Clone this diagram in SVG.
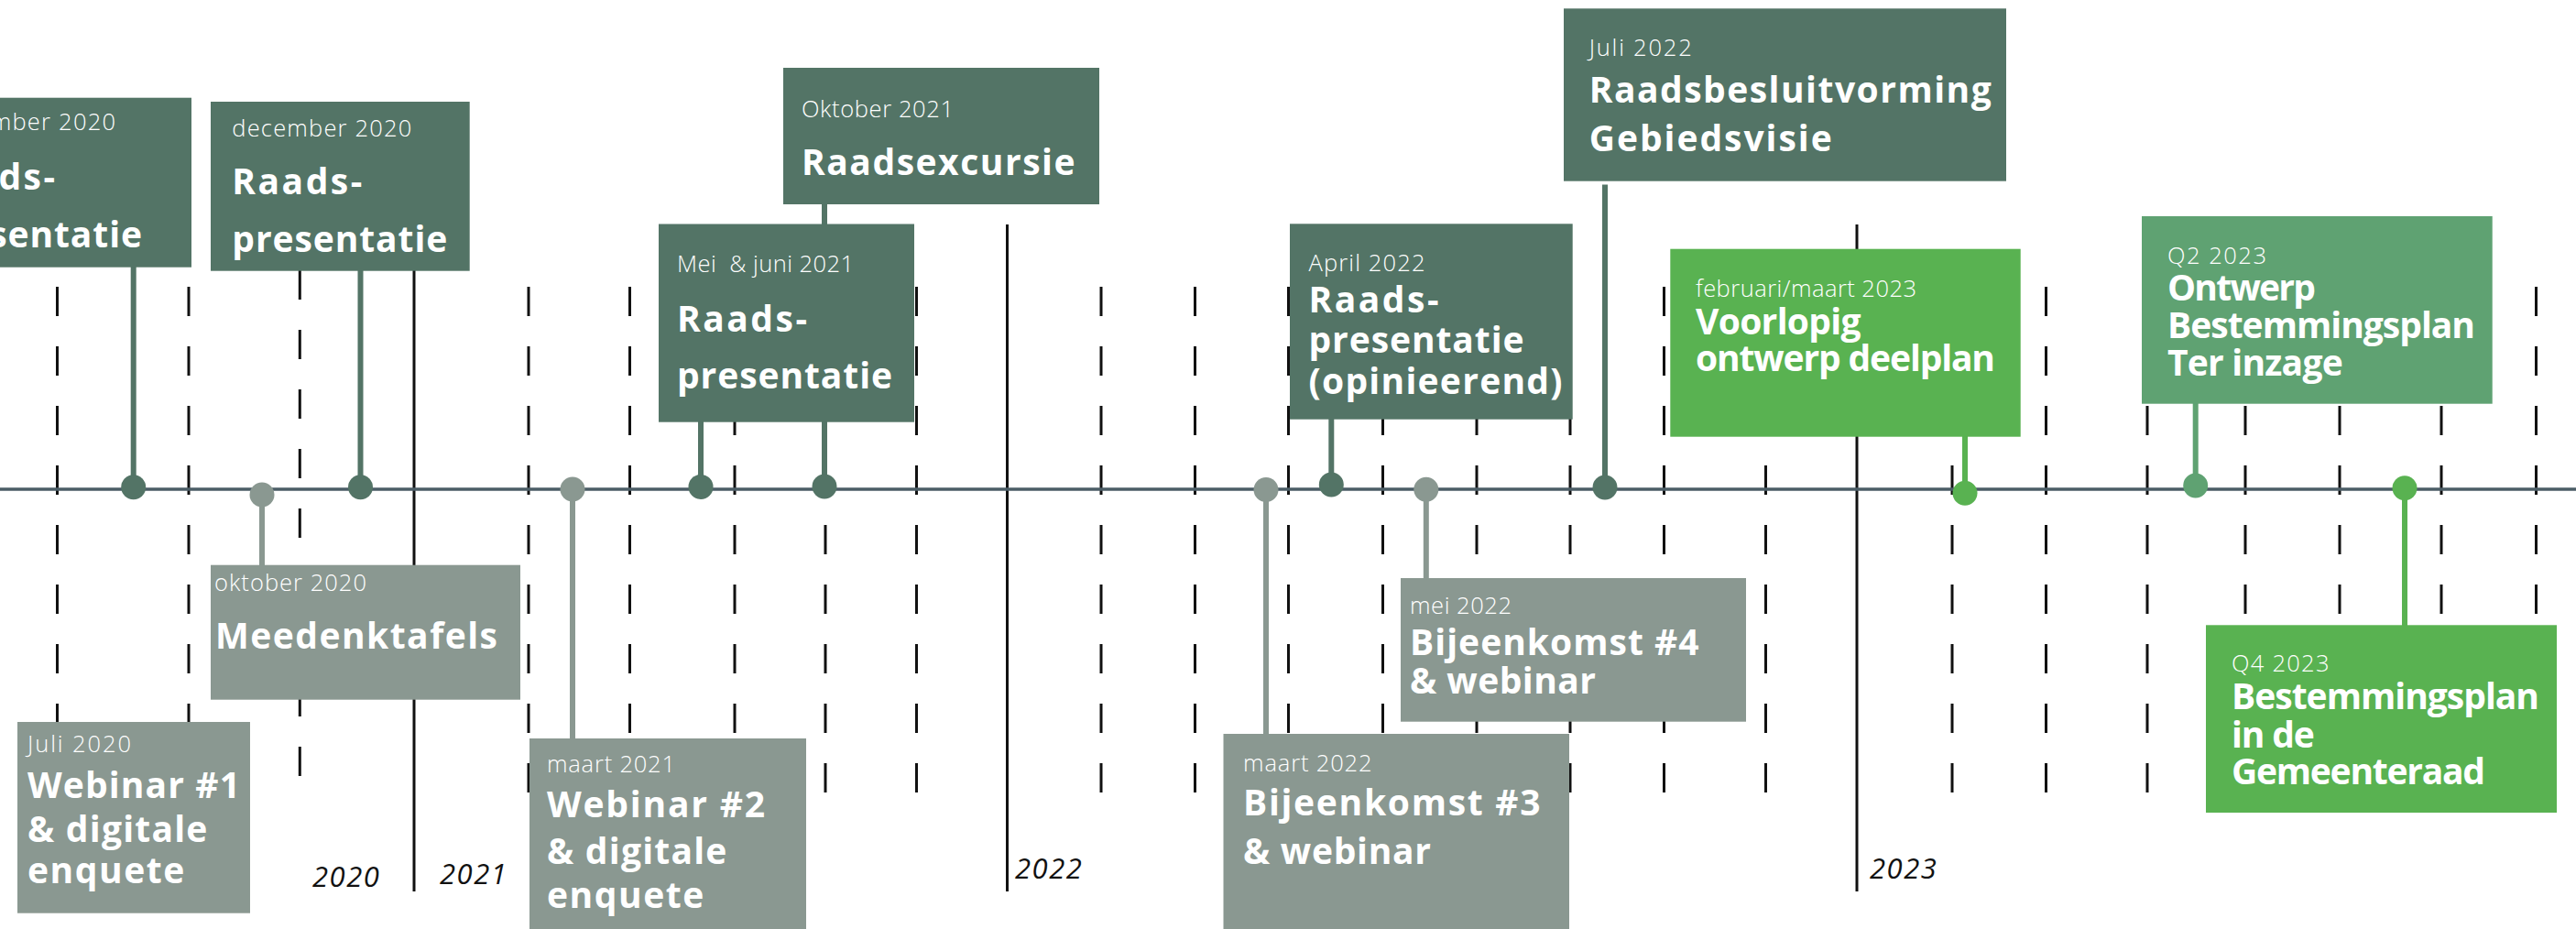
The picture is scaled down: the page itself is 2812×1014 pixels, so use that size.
<svg xmlns="http://www.w3.org/2000/svg" width="2812" height="1014" viewBox="0 0 2812 1014">
<style>
.bg{fill:#ffffff}
.grid{stroke:#111;stroke-width:3;fill:none}
.dash{stroke:#111;stroke-width:3;stroke-dasharray:32 33;fill:none}
.axis{stroke:#4b5d66;stroke-width:3.5}
.c{stroke-width:6;fill:none}
.dk{fill:#537466}.dks{stroke:#537466}
.gy{fill:#8a9891}.gys{stroke:#8a9891}
.gr{fill:#59b251}.grs{stroke:#59b251}
.mg{fill:#5fa272}.mgs{stroke:#5fa272}
.d{font-family:"Open Sans","Liberation Sans",sans-serif;font-weight:300;font-size:25.5px;fill:#fff}
.t{font-family:"Open Sans","Liberation Sans",sans-serif;font-weight:700;font-size:39px;fill:#fff}
.y{font-family:"Open Sans","Liberation Sans",sans-serif;font-style:italic;font-size:31px;letter-spacing:1.5px;fill:#111}
</style>
<rect class="bg" x="0" y="0" width="2812" height="1014"/>
<g id="grid">
<g class="dash">
<line x1="62.5" y1="313" x2="62.5" y2="866"/>
<line x1="206" y1="313" x2="206" y2="866"/>
<line x1="327.3" y1="295" x2="327.3" y2="848"/>
<line x1="577" y1="313" x2="577" y2="866"/>
<line x1="687.5" y1="313" x2="687.5" y2="866"/>
<line x1="802" y1="313" x2="802" y2="866"/>
<line x1="901" y1="313" x2="901" y2="866"/>
<line x1="1000.5" y1="313" x2="1000.5" y2="866"/>
<line x1="1202" y1="313" x2="1202" y2="866"/>
<line x1="1304.5" y1="313" x2="1304.5" y2="866"/>
<line x1="1406.5" y1="313" x2="1406.5" y2="866"/>
<line x1="1509.5" y1="313" x2="1509.5" y2="866"/>
<line x1="1612" y1="313" x2="1612" y2="866"/>
<line x1="1714" y1="313" x2="1714" y2="866"/>
<line x1="1816.5" y1="313" x2="1816.5" y2="866"/>
<line x1="1927.5" y1="313" x2="1927.5" y2="866"/>
<line x1="2131" y1="313" x2="2131" y2="866"/>
<line x1="2233.5" y1="313" x2="2233.5" y2="866"/>
<line x1="2344" y1="313" x2="2344" y2="866"/>
<line x1="2451" y1="313" x2="2451" y2="866"/>
<line x1="2554" y1="313" x2="2554" y2="866"/>
<line x1="2665" y1="313" x2="2665" y2="866"/>
<line x1="2768.5" y1="313" x2="2768.5" y2="866"/>
</g>
<g class="grid">
<line x1="452" y1="245" x2="452" y2="973"/>
<line x1="1099.5" y1="245" x2="1099.5" y2="973"/>
<line x1="2027" y1="245" x2="2027" y2="973"/>
</g>
<text class="y" x="341" y="968">2020</text>
<text class="y" x="480" y="965">2021</text>
<text class="y" x="1108" y="958.5">2022</text>
<text class="y" x="2041" y="958.5">2023</text>
<line class="axis" x1="0" y1="534" x2="2812" y2="534"/>
</g>
<g id="connectors">
<line class="c dks" x1="145.7" y1="290" x2="145.7" y2="531.7"/>
<line class="c gys" x1="286" y1="540" x2="286" y2="620"/>
<line class="c dks" x1="393.5" y1="294" x2="393.5" y2="531.7"/>
<line class="c gys" x1="625" y1="534" x2="625" y2="808"/>
<line class="c dks" x1="765" y1="458" x2="765" y2="531.4"/>
<line class="c dks" x1="900" y1="220" x2="900" y2="531"/>
<line class="c gys" x1="1382" y1="534.5" x2="1382" y2="803"/>
<line class="c dks" x1="1453.3" y1="455" x2="1453.3" y2="529"/>
<line class="c gys" x1="1556.8" y1="534.3" x2="1556.8" y2="633"/>
<line class="c dks" x1="1752" y1="201.5" x2="1752" y2="532"/>
<line class="c grs" x1="2145" y1="474" x2="2145" y2="538.3"/>
<line class="c mgs" x1="2396.7" y1="438" x2="2396.7" y2="530"/>
<line class="c grs" x1="2625" y1="532.7" x2="2625" y2="685"/>
<circle class="dk" cx="145.7" cy="531.7" r="13.5"/>
<circle class="gy" cx="286" cy="540" r="13.5"/>
<circle class="dk" cx="393.5" cy="531.7" r="13.5"/>
<circle class="gy" cx="625" cy="534" r="13.5"/>
<circle class="dk" cx="765" cy="531.4" r="13.5"/>
<circle class="dk" cx="900" cy="531" r="13.5"/>
<circle class="gy" cx="1382" cy="534.5" r="13.5"/>
<circle class="dk" cx="1453.3" cy="529" r="13.5"/>
<circle class="gy" cx="1556.8" cy="534.3" r="13.5"/>
<circle class="dk" cx="1752" cy="532" r="13.5"/>
<circle class="gr" cx="2145" cy="538.3" r="13.5"/>
<circle class="mg" cx="2396.7" cy="530" r="13.5"/>
<circle class="gr" cx="2625" cy="532.7" r="13.5"/>
</g>
<g id="node-sep2020">
<rect class="dk" x="-120" y="106.7" width="329" height="185"/>
<text class="d" x="-80" y="142.3" textLength="206">september 2020</text>
<text class="t" x="-82" y="206.7" textLength="142">Raads-</text>
<text class="t" x="-80" y="270" textLength="235">presentatie</text>
</g>
<g id="node-dec2020">
<rect class="dk" x="230" y="111" width="282.7" height="184.7"/>
<text class="d" x="253.3" y="149" textLength="196">december 2020</text>
<text class="t" x="253.3" y="211.7" textLength="142">Raads-</text>
<text class="t" x="253.3" y="275" textLength="235">presentatie</text>
</g>
<g id="node-okt2021">
<rect class="dk" x="855" y="74" width="345" height="149"/>
<text class="d" x="875" y="128" textLength="166">Oktober 2021</text>
<text class="t" x="875" y="191" textLength="298.5">Raadsexcursie</text>
</g>
<g id="node-mei2021">
<rect class="dk" x="719" y="244.5" width="279" height="216.2"/>
<text class="d" x="739" y="297" xml:space="preserve" textLength="193">Mei  &amp; juni 2021</text>
<text class="t" x="739" y="361.6" textLength="142">Raads-</text>
<text class="t" x="739" y="424" textLength="235">presentatie</text>
</g>
<g id="node-apr2022">
<rect class="dk" x="1408" y="244.3" width="308.7" height="213.4"/>
<text class="d" x="1428.5" y="296" textLength="127">April 2022</text>
<text class="t" x="1428.5" y="341" textLength="142">Raads-</text>
<text class="t" x="1428.5" y="385" textLength="235">presentatie</text>
<text class="t" x="1428.5" y="430" textLength="277">(opinieerend)</text>
</g>
<g id="node-jul2022">
<rect class="dk" x="1707" y="9.3" width="483" height="188.4"/>
<text class="d" x="1734.7" y="60.6" textLength="112">Juli 2022</text>
<text class="t" x="1734.7" y="112" textLength="439">Raadsbesluitvorming</text>
<text class="t" x="1734.7" y="164.6" textLength="265">Gebiedsvisie</text>
</g>
<g id="node-feb2023">
<rect class="gr" x="1823.3" y="271.7" width="382.4" height="205"/>
<text class="d" x="1851" y="324" textLength="241">februari/maart 2023</text>
<text class="t" x="1851" y="365" textLength="180.6">Voorlopig</text>
<text class="t" x="1851" y="405" textLength="327">ontwerp deelplan</text>
</g>
<g id="node-okt2020">
<rect class="gy" x="230" y="616.7" width="338" height="147"/>
<text class="d" x="234" y="645" textLength="166">oktober 2020</text>
<text class="t" x="235" y="708" textLength="308">Meedenktafels</text>
</g>
<g id="node-jul2020">
<rect class="gy" x="19" y="788" width="254" height="208.7"/>
<text class="d" x="30" y="820.6" textLength="113">Juli 2020</text>
<text class="t" x="30" y="871" textLength="232">Webinar #1</text>
<text class="t" x="30" y="919" textLength="196.4">&amp; digitale</text>
<text class="t" x="30" y="964" textLength="171.4">enquete</text>
</g>
<g id="node-mrt2021">
<rect class="gy" x="578" y="806" width="302" height="214"/>
<text class="d" x="597" y="842.7" textLength="140">maart 2021</text>
<text class="t" x="597" y="892" textLength="238">Webinar #2</text>
<text class="t" x="597" y="942.5" textLength="196.4">&amp; digitale</text>
<text class="t" x="597" y="991" textLength="171.4">enquete</text>
</g>
<g id="node-mrt2022">
<rect class="gy" x="1335.5" y="801" width="377.5" height="219"/>
<text class="d" x="1357" y="841.7" textLength="140.6">maart 2022</text>
<text class="t" x="1357" y="890" textLength="324.5">Bijeenkomst #3</text>
<text class="t" x="1357" y="942.7" textLength="205">&amp; webinar</text>
</g>
<g id="node-mei2022">
<rect class="gy" x="1529" y="631" width="377" height="156.7"/>
<text class="d" x="1539" y="670" textLength="111">mei 2022</text>
<text class="t" x="1539" y="715" textLength="315.6">Bijeenkomst #4</text>
<text class="t" x="1539" y="757.3" textLength="203">&amp; webinar</text>
</g>
<g id="node-q22023">
<rect class="mg" x="2338" y="236" width="382.7" height="204.7"/>
<text class="d" x="2366" y="288.3" textLength="108">Q2 2023</text>
<text class="t" x="2366" y="328.3" textLength="162">Ontwerp</text>
<text class="t" x="2366" y="369.3" textLength="336">Bestemmingsplan</text>
<text class="t" x="2366" y="410" textLength="191.7">Ter inzage</text>
</g>
<g id="node-q42023">
<rect class="gr" x="2408" y="682.3" width="383" height="204.7"/>
<text class="d" x="2436" y="732.7" textLength="106.5">Q4 2023</text>
<text class="t" x="2436" y="773.6" textLength="336">Bestemmingsplan</text>
<text class="t" x="2436" y="815.5" textLength="90.7">in de</text>
<text class="t" x="2436" y="856.4" textLength="277">Gemeenteraad</text>
</g>
</svg>
